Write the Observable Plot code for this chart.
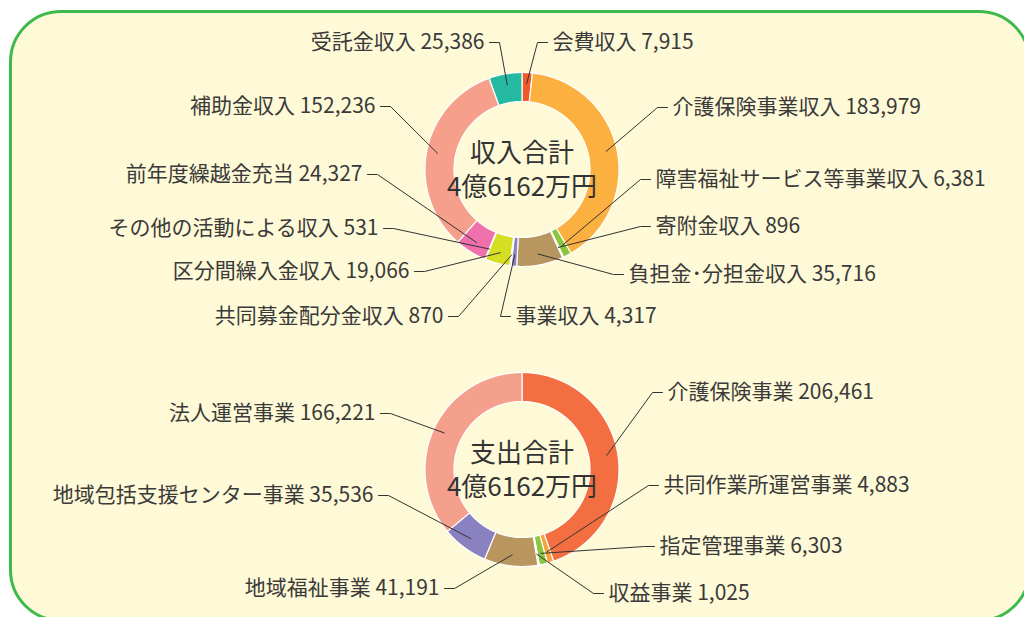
<!DOCTYPE html>
<html><head><meta charset="utf-8">
<script src="https://cdn.jsdelivr.net/npm/d3@7"></script>
<script src="https://cdn.jsdelivr.net/npm/@observablehq/plot@0.6"></script>
<style>
html,body{margin:0;padding:0;background:#fff;}
#wrap{position:relative;width:1024px;height:617px;overflow:hidden;}
#box{position:absolute;left:9px;top:10px;width:1022px;height:612px;border:3.5px solid #3dba4c;border-radius:52px;background:#fef9d6;box-sizing:border-box;}
#chart{position:absolute;left:0;top:0;}
</style></head><body>
<div id="wrap"><div id="box"></div><div id="chart"></div></div>
<script>
// ---- data (千円) ----
const incomeTitle = "収入合計";
const incomeNames = ["会費収入","介護保険事業収入","障害福祉サービス等事業収入","寄附金収入","負担金･分担金収入","事業収入","共同募金配分金収入","区分間繰入金収入","その他の活動による収入","前年度繰越金充当","補助金収入","受託金収入"];
const incomeValues = [7915,183979,6381,896,35716,4317,870,19066,531,24327,152236,25386];
const incomeColors = ["#ef5a2a","#fbb03f","#8cc63e","#d9eaf6","#b79660","#8b82c0","#eef0fa","#d6de24","#f9e0ee","#ef70aa","#f6a08c","#24b9a0"];

const expenseTitle = "支出合計";
const expenseNames = ["介護保険事業","共同作業所運営事業","指定管理事業","収益事業","地域福祉事業","地域包括支援センター事業","法人運営事業"];
const expenseValues = [206461,4883,6303,1025,41191,35536,166221];
const expenseColors = ["#f36f42","#f7a23b","#8cc63e","#dcedf7","#b8965e","#8a81c0","#f5a08c"];

// ---- layout ----
const donuts = [
  {title: incomeTitle, names: incomeNames, values: incomeValues, colors: incomeColors, cx: 521.5, cy: 169,
   labels: [[552,42,"start"],[672,107,"start"],[655,179,"start"],[655,226,"start"],[628,274,"start"],[515,316,"start"],
            [443,316,"end"],[409,271,"end"],[378,228,"end"],[362,174,"end"],[375,106,"end"],[484,42,"end"]]},
  {title: expenseTitle, names: expenseNames, values: expenseValues, colors: expenseColors, cx: 521.5, cy: 469,
   labels: [[667,392,"start"],[663,485,"start"],[659,546,"start"],[608,593,"start"],[439,588,"end"],[373,495,"end"],[375,413,"end"]]}
];
const rOuter = 97, rInner = 68, rLeader = 86;
const FONT = "'Noto Sans CJK JP','Noto Sans',sans-serif";
const fmt = d3.format(",");

const slicePts = [], leaderPts = [], labelRows = [], centerRows = [];
const colorDomain = [], colorRange = [];
donuts.forEach((d, di) => {
  const total = d3.sum(d.values);
  let acc = 0;
  d.names.forEach((name, i) => {
    const key = di + ":" + name;
    colorDomain.push(key); colorRange.push(d.colors[i]);
    const a0 = acc / total * 2 * Math.PI;
    acc += d.values[i];
    const a1 = acc / total * 2 * Math.PI;
    const n = Math.max(2, Math.ceil((a1 - a0) / 0.01));
    for (let k = 0; k <= n; k++) {
      const a = a0 + (a1 - a0) * k / n;
      slicePts.push({key, x: d.cx + rOuter * Math.sin(a), y: d.cy - rOuter * Math.cos(a)});
    }
    for (let k = n; k >= 0; k--) {
      const a = a0 + (a1 - a0) * k / n;
      slicePts.push({key, x: d.cx + rInner * Math.sin(a), y: d.cy - rInner * Math.cos(a)});
    }
    const am = (a0 + a1) / 2;
    const [lx, ly, anchor] = d.labels[i];
    const dir = anchor === "start" ? -1 : 1;
    const sx = lx + dir * 5;
    leaderPts.push({key, x: sx, y: ly});
    leaderPts.push({key, x: sx + dir * 10, y: ly});
    leaderPts.push({key, x: d.cx + rLeader * Math.sin(am), y: d.cy - rLeader * Math.cos(am)});
    labelRows.push({x: lx, y: ly, anchor, text: name + " " + fmt(d.values[i])});
  });
  const oku = Math.floor(total / 100000);
  const man = Math.round((total % 100000) / 10);
  centerRows.push({x: d.cx, y: d.cy - 16, text: d.title});
  centerRows.push({x: d.cx, y: d.cy + 18, text: oku + "億" + man + "万円"});
});

const chart = Plot.plot({
  width: 1024, height: 617, margin: 0,
  x: {domain: [0, 1024], range: [0, 1024], axis: null},
  y: {domain: [0, 617], range: [0, 617], axis: null},
  color: {domain: colorDomain, range: colorRange},
  style: {background: "transparent", fontFamily: FONT, color: "#333"},
  marks: [
    Plot.line(slicePts, {x: "x", y: "y", z: "key", fill: "key", stroke: "#ffffff", strokeWidth: 1.2, curve: "linear-closed"}),
    Plot.line(leaderPts, {x: "x", y: "y", z: "key", stroke: "#333", strokeWidth: 1}),
    Plot.text(labelRows.filter(d => d.anchor === "start"), {x: "x", y: "y", text: "text", textAnchor: "start", fontSize: 21, fill: "#3a3a3a", fontFamily: FONT}),
    Plot.text(labelRows.filter(d => d.anchor === "end"), {x: "x", y: "y", text: "text", textAnchor: "end", fontSize: 21, fill: "#3a3a3a", fontFamily: FONT}),
    Plot.text(centerRows, {x: "x", y: "y", text: "text", fontSize: 26, fill: "#333", fontFamily: FONT})
  ]
});
document.getElementById("chart").appendChild(chart);
</script>
</body></html>
